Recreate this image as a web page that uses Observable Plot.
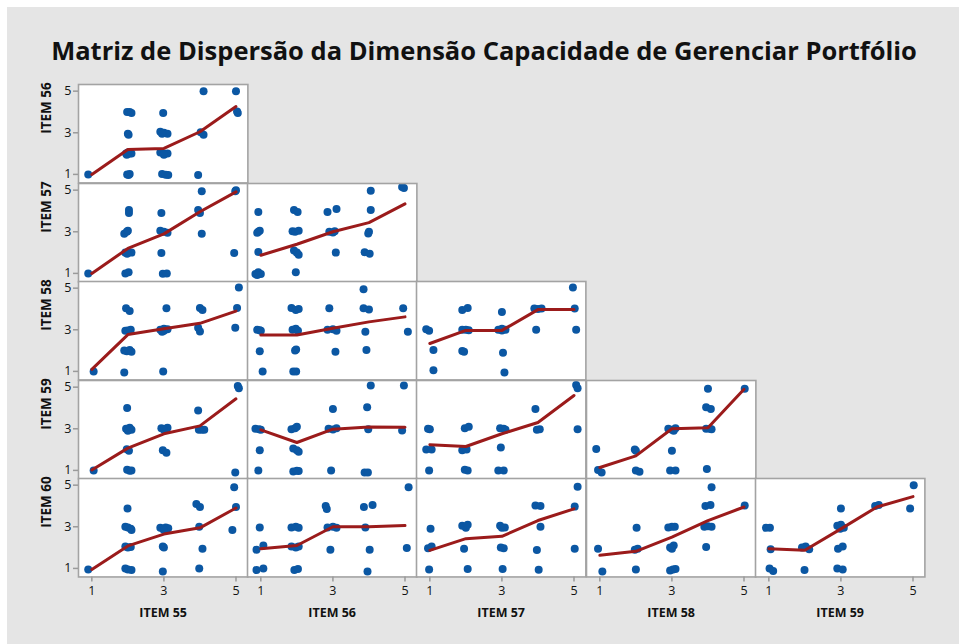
<!DOCTYPE html>
<html>
<head>
<meta charset="utf-8">
<script src="https://cdn.jsdelivr.net/npm/d3@7"></script>
<script src="https://cdn.jsdelivr.net/npm/@observablehq/plot@0.6"></script>
<style>
  html, body { margin: 0; padding: 0; background: #fff; }
  #wrap { position: relative; width: 959px; height: 644px; overflow: hidden; font-family: "Open Sans", "Noto Sans", sans-serif; }
  #bg { position: absolute; left: 7px; top: 7px; right: 0; bottom: 0; background: #e5e5e5; }
  #title { position: absolute; left: 0; width: 968px; top: 33px; text-align: center; font-size: 25.5px; font-weight: bold; color: #111; white-space: nowrap; }
  .panel { position: absolute; }
</style>
</head>
<body>
<div id="wrap">
  <div id="bg"></div>
  <div id="title">Matriz de Dispersão da Dimensão Capacidade de Gerenciar Portfólio</div>
</div>
<script>
// ---- data ----
const rowItems = ["ITEM 56", "ITEM 57", "ITEM 58", "ITEM 59", "ITEM 60"];
const colItems = ["ITEM 55", "ITEM 56", "ITEM 57", "ITEM 58", "ITEM 59"];
const tickValues = [1, 3, 5];
const fitX = [1, 2, 3, 4, 5];

// points [x, y] (jittered positions) per panel
const pts_56_55 = [[0.9,1],[1.98,4.0],[2.05,4.0],[2.1,3.95],[2,2.95],[2.02,2.9],[1.95,2],[2.05,2],[2.1,2.0],[2,2.05],[1.97,1.95],[1.98,1.0],[2.05,1.02],[2.02,0.97],[2.98,3.95],[2.9,3.05],[3.0,3.0],[3.1,2.95],[2.95,2.95],[2.9,2.05],[3.0,2.0],[3.1,2.0],[3,1.95],[2.95,1.02],[3.05,0.98],[3.12,0.97],[4.1,5],[4.02,3.02],[4.1,2.9],[3.95,0.97],[5,5],[5.03,4.02],[5.05,3.95]];
const pts_57_55 = [[0.9,1],[2.03,4.05],[2.03,3.9],[1.97,3.0],[1.9,2.9],[2.0,3.05],[1.93,2.0],[2.0,2.02],[2.1,2.0],[1.98,1.95],[1.93,1.0],[2.02,1.05],[2.93,3.9],[2.9,3.05],[3.0,3.0],[3.1,2.95],[2.93,1.98],[2.97,0.98],[3.08,1.0],[4.05,4.95],[3.95,4.05],[4.0,3.9],[4.05,2.9],[5,5],[4.98,4.95],[4.95,1.98]];
const pts_58_55 = [[1.05,1],[1.9,0.95],[2.98,1.0],[1.95,4.03],[2.05,3.9],[1.93,2.95],[2.0,2.97],[2.08,3.0],[1.9,2.0],[1.97,1.97],[2.05,2.03],[2.1,1.95],[3.07,4.03],[2.9,3.0],[3.0,3.05],[3.1,3.02],[3.0,2.95],[2.95,2.9],[4.0,4.05],[4.07,3.95],[3.95,3.1],[4.0,2.92],[5.08,5.03],[5.03,4.05],[4.98,3.1]];
const pts_59_55 = [[1.05,1],[1.98,4.0],[1.95,3.0],[2.05,3.05],[2.1,2.95],[2.0,2.9],[1.97,2.02],[2.03,1.95],[1.98,1.03],[2.05,0.98],[2.1,1.0],[2.93,3.03],[3.05,3.0],[3.1,3.05],[3.0,2.95],[2.97,1.97],[3.07,1.85],[3.95,3.88],[3.97,2.95],[4.05,2.95],[4.12,2.95],[5.05,5.05],[5.08,4.95],[4.98,0.9]];
const pts_60_55 = [[0.9,0.95],[1.99,3.88],[1.93,3.0],[2.0,2.97],[2.08,2.9],[2.1,2.85],[1.93,2.05],[2.0,2.0],[2.08,2.03],[1.93,1.0],[2.0,0.95],[2.1,0.92],[2.9,2.95],[2.97,2.9],[3.05,2.97],[3.12,2.93],[3.0,2.85],[2.97,2.05],[3.0,2.0],[2.97,0.85],[3.9,4.1],[4.0,3.95],[3.98,3.0],[4.07,1.95],[3.98,1.0],[4.95,4.9],[5.0,3.95],[4.9,2.85]];
const pts_57_56 = [[0.93,3.95],[0.93,3.0],[0.97,3.05],[0.9,2.95],[0.93,2.03],[0.85,0.97],[0.93,1.05],[1.0,0.97],[0.9,0.92],[1.92,4.05],[2.02,3.95],[1.88,3.03],[1.95,3.0],[2.05,3.05],[1.92,2.1],[2.0,2.0],[2.05,1.9],[1.97,1.05],[2.85,3.95],[3.1,4.1],[2.9,3.0],[3.0,2.97],[3.05,3.03],[3.08,2.0],[4.05,4.97],[4.05,4.05],[4.0,3.0],[3.98,2.92],[3.88,2.02],[4.02,1.95],[4.92,5.15],[4.97,5.1]];
const pts_58_56 = [[0.9,3.0],[0.97,2.98],[1.0,2.95],[0.97,1.97],[1.05,1.0],[1.85,4.05],[1.97,3.95],[2.05,4.0],[1.88,3.0],[1.97,3.05],[2.03,2.95],[1.95,2.0],[1.98,2.05],[1.9,1.0],[1.98,1.0],[2.9,4.03],[2.85,3.0],[3.0,3.03],[3.1,2.95],[3.07,1.95],[3.85,4.95],[3.85,4.03],[4.0,3.98],[3.9,2.9],[3.93,2.03],[4.95,4.03],[5.08,2.9]];
const pts_59_56 = [[0.85,3.0],[0.95,2.98],[1.0,2.95],[0.97,1.97],[0.93,1.0],[1.85,2.98],[1.95,3.02],[2.0,3.1],[1.9,2.05],[2.0,1.97],[2.05,1.9],[1.9,0.95],[2.0,0.98],[2.05,0.97],[3.0,3.95],[2.88,3.0],[3.0,2.97],[3.1,3.02],[2.95,1.0],[4.05,5.08],[3.95,4.03],[3.98,2.98],[3.88,0.9],[3.97,0.9],[4.97,5.08],[4.92,2.92]];
const pts_60_56 = [[0.97,2.97],[0.88,1.9],[1.07,2.1],[0.88,0.92],[1.07,1.0],[1.85,2.97],[1.97,3.0],[2.05,2.95],[1.85,2.05],[1.97,2.0],[2.05,2.05],[1.93,0.92],[2.03,0.97],[2.8,4.0],[2.83,3.85],[2.85,2.97],[3.0,3.0],[3.1,2.95],[2.93,1.9],[3.86,3.95],[4.1,4.05],[3.9,2.97],[4.02,1.9],[3.96,0.85],[5.1,4.9],[5.05,1.98]];
const pts_58_57 = [[0.9,3.02],[0.98,2.95],[1.1,2.03],[1.1,1.05],[1.9,3.95],[2.05,4.05],[1.9,3.0],[2.0,3.0],[2.08,2.98],[1.9,1.98],[1.95,1.95],[3.0,3.85],[2.9,3.0],[3.0,2.97],[3.1,3.0],[3.0,3.05],[3.03,1.9],[3.07,0.95],[3.9,4.02],[4.0,4.0],[4.1,4.02],[3.95,3.0],[4.97,5.03],[5.02,4.02],[5.06,3.0]];
const pts_59_57 = [[1.0,2.98],[0.95,3.0],[0.9,2.0],[1.05,2.0],[0.98,1.0],[1.97,3.02],[2.08,3.1],[1.9,1.97],[2.02,2.0],[1.97,1.03],[2.05,1.0],[2.95,3.03],[3.05,3.0],[3.1,2.95],[2.97,2.1],[2.9,1.0],[3.05,1.0],[3.93,3.95],[3.97,2.95],[4.05,2.98],[5.06,5.1],[5.1,4.95],[5.1,2.98]];
const pts_60_57 = [[1.02,2.9],[0.95,1.97],[1.05,2.05],[0.98,0.95],[1.9,3.05],[2.0,2.95],[2.05,3.1],[1.95,1.95],[2.05,0.97],[2.95,3.05],[3.0,2.95],[3.08,2.97],[2.97,2.0],[3.05,1.97],[3.02,0.97],[3.93,4.02],[4.07,4.0],[4.07,3.0],[3.97,1.88],[4.02,0.93],[5.1,4.92],[5.02,3.97],[5.02,1.95]];
const pts_59_58 = [[0.9,2.03],[0.95,1.02],[1.05,0.9],[1.97,2.0],[2.0,1.95],[2.0,1.0],[2.1,0.93],[2.9,3.0],[3.0,2.95],[3.1,3.02],[3.05,2.9],[3.0,1.95],[2.95,1.0],[3.1,1.0],[4.0,4.92],[3.95,4.03],[4.08,3.95],[3.95,3.0],[4.05,3.0],[4.1,2.98],[3.97,1.07],[5.02,4.92]];
const pts_60_58 = [[0.95,1.95],[1.07,0.85],[2.02,2.95],[1.97,1.9],[2.05,1.95],[2.0,0.95],[2.9,2.97],[3.0,3.0],[3.08,3.0],[2.95,2.0],[3.05,2.1],[3.0,1.95],[2.95,0.9],[3.03,0.95],[3.1,0.97],[4.1,4.9],[3.93,4.0],[4.07,4.05],[3.9,3.0],[4.0,3.02],[4.1,3.0],[3.95,2.03],[5.02,4.02]];
const pts_60_59 = [[0.92,2.95],[1.03,2.95],[1.05,1.92],[1.02,1.0],[1.12,0.87],[1.92,2.0],[2.02,2.05],[2.12,1.92],[1.99,0.92],[3.0,3.88],[2.9,3.05],[3.0,3.1],[3.08,2.95],[2.98,2.9],[2.92,1.95],[3.05,2.05],[2.9,1.0],[3.05,0.95],[3.95,4.0],[4.05,4.05],[5.02,5.0],[4.92,3.88]];

// smoother (fit line) y-values at x = 1..5
const fit_56_55 = [1.0, 2.2, 2.25, 3.05, 4.26];
const fit_57_55 = [1.0, 2.2, 2.9, 3.96, 4.92];
const fit_58_55 = [1.1, 2.77, 3.05, 3.31, 3.9];
const fit_59_55 = [1.02, 2.07, 2.76, 3.14, 4.44];
const fit_60_55 = [0.95, 2.08, 2.65, 2.95, 3.9];
const fit_57_56 = [1.87, 2.4, 3.0, 3.44, 4.34];
const fit_58_56 = [2.75, 2.75, 3.07, 3.38, 3.62];
const fit_59_56 = [2.95, 2.34, 2.98, 3.08, 3.07];
const fit_60_56 = [1.95, 2.1, 3.0, 3.0, 3.06];
const fit_58_57 = [2.34, 2.97, 2.97, 3.97, 3.97];
const fit_59_57 = [2.23, 2.15, 2.76, 3.3, 4.6];
const fit_60_57 = [1.87, 2.43, 2.54, 3.3, 3.86];
const fit_59_58 = [1.14, 1.7, 3.0, 3.05, 4.9];
const fit_60_58 = [1.63, 1.82, 2.5, 3.3, 3.95];
const fit_60_59 = [1.95, 1.87, 2.9, 3.95, 4.45];

const panelPoints = {
  "56|55": pts_56_55, "57|55": pts_57_55, "58|55": pts_58_55, "59|55": pts_59_55, "60|55": pts_60_55,
  "57|56": pts_57_56, "58|56": pts_58_56, "59|56": pts_59_56, "60|56": pts_60_56,
  "58|57": pts_58_57, "59|57": pts_59_57, "60|57": pts_60_57,
  "59|58": pts_59_58, "60|58": pts_60_58,
  "60|59": pts_60_59
};
const panelFits = {
  "56|55": fit_56_55, "57|55": fit_57_55, "58|55": fit_58_55, "59|55": fit_59_55, "60|55": fit_60_55,
  "57|56": fit_57_56, "58|56": fit_58_56, "59|56": fit_59_56, "60|56": fit_60_56,
  "58|57": fit_58_57, "59|57": fit_59_57, "60|57": fit_60_57,
  "59|58": fit_59_58, "60|58": fit_60_58,
  "60|59": fit_60_59
};

// ---- layout ----
const gridLeft = 77.5, gridTop = 84.3, cellW = 169.4, cellH = 98.45;
const xDomain = [0.63, 5.33], yDomain = [0.59, 5.32];
const ML = 75, MB = 55;
const dotColor = "#0b57a3", lineColor = "#9b1b1b", frameColor = "#a3a3a3";
const wrap = document.getElementById("wrap");

rowItems.forEach((rItem, r) => {
  colItems.forEach((cItem, c) => {
    if (c > r) return;
    const key = rItem.slice(5) + "|" + cItem.slice(5);
    const pts = panelPoints[key].map(([x, y]) => ({x, y}));
    const fit = fitX.map((x, i) => ({x, y: panelFits[key][i]}));
    const isLeft = c === 0, isBottom = r === rowItems.length - 1;
    const ml = isLeft ? ML : 0, mb = isBottom ? MB : 0;
    const marks = [
      Plot.frame({fill: "white", stroke: "none"}),
      Plot.dot(pts, {x: "x", y: "y", r: 4, fill: dotColor, stroke: "none"}),
      Plot.line(fit, {x: "x", y: "y", stroke: lineColor, strokeWidth: 3}),
      Plot.frame({stroke: frameColor, strokeWidth: 1.6})
    ];
    if (isLeft) {
      marks.push(Plot.axisY({ticks: tickValues, tickFormat: "d", tickSize: 5, tickPadding: 2, fontSize: 12.5, label: null, stroke: "#9a9a9a", strokeWidth: 1.5, fill: "#111"}));
      marks.push(Plot.text([rItem], {frameAnchor: "left", rotate: -90, dx: -32, fontSize: 13.5, fontWeight: "bold", fill: "#111", text: d => d}));
    }
    if (isBottom) {
      marks.push(Plot.axisX({ticks: tickValues, tickFormat: "d", tickSize: 5, tickPadding: 4, fontSize: 12.5, label: null, stroke: "#9a9a9a", strokeWidth: 1.5, fill: "#111"}));
      marks.push(Plot.text([cItem], {frameAnchor: "bottom", dy: 40, fontSize: 12.5, fontWeight: "bold", fill: "#111", text: d => d}));
    }
    const chart = Plot.plot({
      width: ml + cellW, height: cellH + mb,
      marginLeft: ml, marginRight: 0, marginTop: 0, marginBottom: mb,
      x: {domain: xDomain, ...(isBottom ? {} : {axis: null})},
      y: {domain: yDomain, ...(isLeft ? {} : {axis: null})},
      style: {background: "transparent", overflow: "visible", fontFamily: "'Open Sans', 'Noto Sans', sans-serif", fontSize: "12px"},
      marks
    });
    chart.classList.add("panel");
    chart.style.left = (gridLeft + c * cellW - ml) + "px";
    chart.style.top = (gridTop + r * cellH) + "px";
    wrap.appendChild(chart);
  });
});
</script>
</body>
</html>
